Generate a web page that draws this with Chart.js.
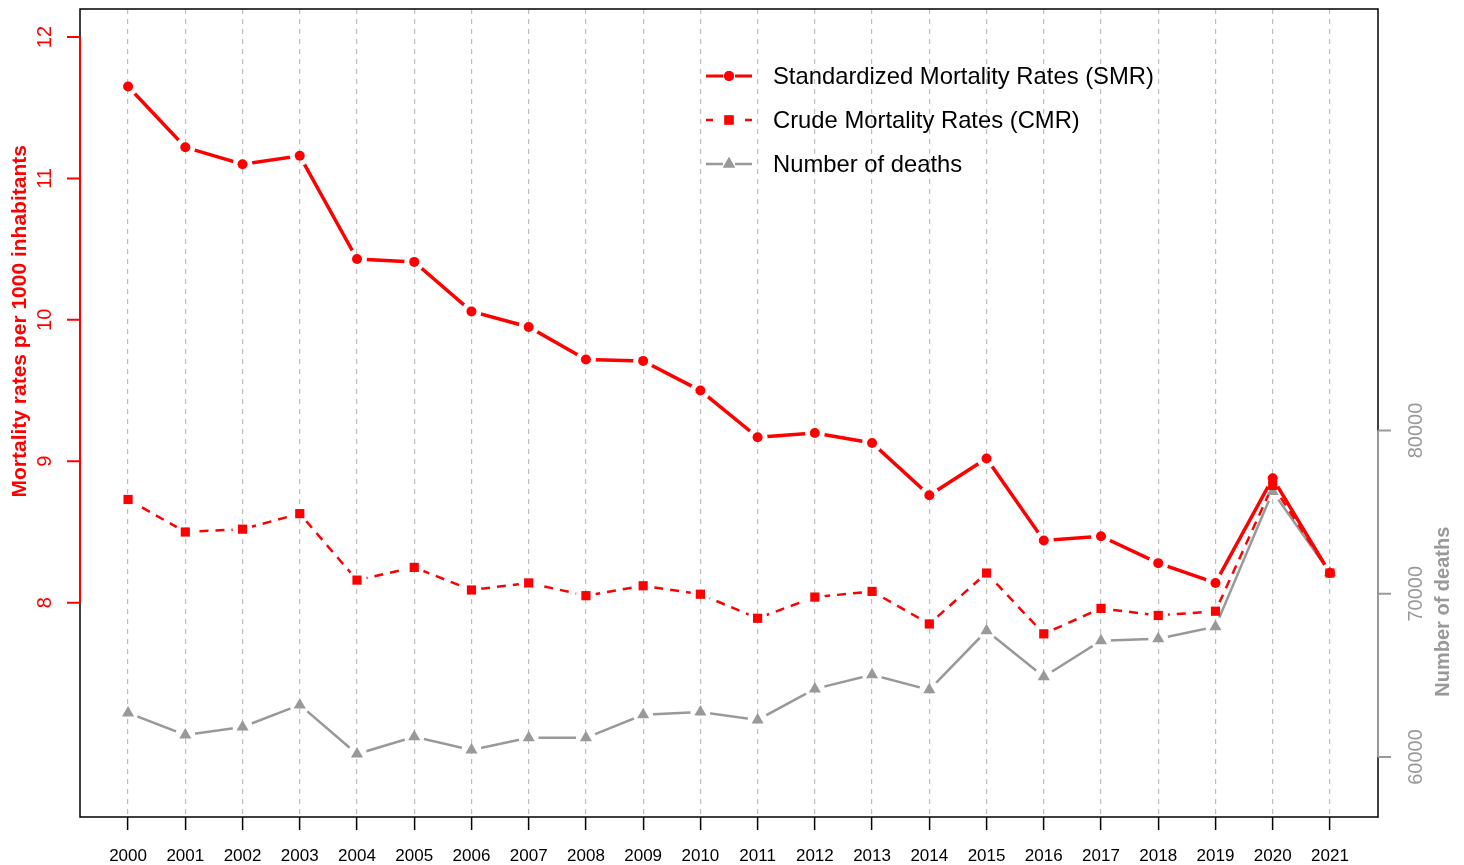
<!DOCTYPE html>
<html>
<head>
<meta charset="utf-8">
<script src="https://cdn.jsdelivr.net/npm/chart.js@4.4.0/dist/chart.umd.min.js"></script>
<style>
  html, body { margin: 0; padding: 0; background: #fff; }
  #wrap { width: 1464px; height: 865px; position: relative; }
</style>
</head>
<body>
<div id="wrap"><canvas id="mortChart"></canvas></div>
<script>
// Years on the x axis
const years = ['2000','2001','2002','2003','2004','2005','2006','2007','2008','2009','2010',
               '2011','2012','2013','2014','2015','2016','2017','2018','2019','2020','2021'];

// Standardized mortality rates per 1000 (left axis)
const smr = [11.65, 11.22, 11.10, 11.16, 10.43, 10.41, 10.06, 9.95, 9.72, 9.71, 9.50,
             9.17, 9.20, 9.13, 8.76, 9.02, 8.44, 8.47, 8.28, 8.14, 8.88, 8.21];

// Crude mortality rates per 1000 (left axis)
const cmr = [8.73, 8.50, 8.52, 8.63, 8.16, 8.25, 8.09, 8.14, 8.05, 8.12, 8.06,
             7.89, 8.04, 8.08, 7.85, 8.21, 7.78, 7.96, 7.91, 7.94, 8.83, 8.21];

// Number of deaths (right axis)
const deaths = [62700, 61350, 61840, 63190, 60180, 61230, 60430, 61170, 61170, 62580, 62760,
                62270, 64170, 65030, 64110, 67730, 64910, 67120, 67240, 67980, 76260, 71290];

const leftTicks = [8, 9, 10, 11, 12];
const rightTicks = [60000, 70000, 80000];

const RED = '#ff0000';
const GREY = '#999999';
const FONT = '"Liberation Sans", Arial, Helvetica, sans-serif';

const toXY = arr => arr.map((v, i) => ({ x: i, y: v }));

// R-style plotting: lines broken around the points, box, partial axes, legend
const rStyle = {
  id: 'rStyle',
  beforeDatasetDraw(chart, args) {
    const ds = chart.data.datasets[args.index];
    if (!ds.gap) return;
    const ctx = chart.ctx;
    const a = chart.chartArea;
    ctx.save();
    ctx.beginPath();
    ctx.rect(a.left - 5, a.top - 5, a.width + 10, a.height + 10);
    args.meta.data.forEach(p => {
      ctx.moveTo(p.x + ds.gap, p.y);
      ctx.arc(p.x, p.y, ds.gap, 0, Math.PI * 2);
    });
    ctx.clip('evenodd');
  },
  afterDatasetDraw(chart, args) {
    const ds = chart.data.datasets[args.index];
    if (ds.gap) chart.ctx.restore();
  },
  afterDraw(chart) {
    const ctx = chart.ctx;
    const a = chart.chartArea;
    const yl = chart.scales.y;
    const yr = chart.scales.y1;

    // box
    ctx.save();
    ctx.strokeStyle = '#000';
    ctx.lineWidth = 1.5;
    ctx.strokeRect(a.left, a.top, a.width, a.height);

    // left axis (red)
    ctx.strokeStyle = RED;
    ctx.lineWidth = 2;
    ctx.beginPath();
    ctx.moveTo(a.left, yl.getPixelForValue(8));
    ctx.lineTo(a.left, yl.getPixelForValue(12));
    leftTicks.forEach(t => {
      const py = yl.getPixelForValue(t);
      ctx.moveTo(a.left, py);
      ctx.lineTo(a.left - 13, py);
    });
    ctx.stroke();
    ctx.fillStyle = RED;
    ctx.font = '20px ' + FONT;
    ctx.textAlign = 'center';
    ctx.textBaseline = 'middle';
    leftTicks.forEach(t => {
      ctx.save();
      ctx.translate(45, yl.getPixelForValue(t));
      ctx.rotate(-Math.PI / 2);
      ctx.fillText(String(t), 0, 0);
      ctx.restore();
    });
    ctx.save();
    ctx.font = 'bold 21px ' + FONT;
    ctx.translate(20, yl.getPixelForValue(9.99));
    ctx.rotate(-Math.PI / 2);
    ctx.fillText('Mortality rates per 1000 inhabitants', 0, 0);
    ctx.restore();

    // right axis (grey)
    ctx.strokeStyle = GREY;
    ctx.lineWidth = 2;
    ctx.beginPath();
    ctx.moveTo(a.right, yr.getPixelForValue(60000));
    ctx.lineTo(a.right, yr.getPixelForValue(80000));
    rightTicks.forEach(t => {
      const py = yr.getPixelForValue(t);
      ctx.moveTo(a.right, py);
      ctx.lineTo(a.right + 13, py);
    });
    ctx.stroke();
    ctx.fillStyle = GREY;
    ctx.font = '20px ' + FONT;
    rightTicks.forEach(t => {
      ctx.save();
      ctx.translate(1416, yr.getPixelForValue(t));
      ctx.rotate(-Math.PI / 2);
      ctx.fillText(String(t), 0, 0);
      ctx.restore();
    });
    ctx.save();
    ctx.font = 'bold 20px ' + FONT;
    ctx.translate(1443, yr.getPixelForValue(68900));
    ctx.rotate(-Math.PI / 2);
    ctx.fillText('Number of deaths', 0, 0);
    ctx.restore();

    // legend
    const lx = 706, lw = 46, tx = 773;
    const rows = [
      { label: 'Standardized Mortality Rates (SMR)', color: RED, dash: [], style: 'circle', r: 5, w: 3 },
      { label: 'Crude Mortality Rates (CMR)', color: RED, dash: [7, 9], style: 'rect', r: 6.5, w: 2.5 },
      { label: 'Number of deaths', color: GREY, dash: [], style: 'triangle', r: 7, w: 2.5 }
    ];
    rows.forEach((row, i) => {
      const ly = 76 + i * 44;
      const cx = lx + lw / 2;
      ctx.strokeStyle = row.color;
      ctx.lineWidth = row.w;
      ctx.setLineDash(row.dash);
      ctx.beginPath();
      if (row.dash.length) {
        ctx.moveTo(lx, ly); ctx.lineTo(lx + 7, ly);
        ctx.moveTo(lx + lw - 7, ly); ctx.lineTo(lx + lw, ly);
      } else {
        ctx.moveTo(lx, ly); ctx.lineTo(cx - 6, ly);
        ctx.moveTo(cx + 6, ly); ctx.lineTo(lx + lw, ly);
      }
      ctx.stroke();
      ctx.setLineDash([]);
      ctx.fillStyle = row.color;
      Chart.helpers.drawPoint(ctx, { pointStyle: row.style, radius: row.r, borderWidth: 0 }, cx, ly);
      ctx.fill();
      ctx.fillStyle = '#000';
      ctx.font = '23.8px ' + FONT;
      ctx.textAlign = 'left';
      ctx.fillText(row.label, tx, ly + 1);
      ctx.textAlign = 'center';
    });
    ctx.restore();
  }
};

const ctx = document.getElementById('mortChart').getContext('2d');
new Chart(ctx, {
  type: 'line',
  data: {
    datasets: [
      // lines (broken around points)
      { data: toXY(smr), yAxisID: 'y', borderColor: RED, borderWidth: 3.5, pointRadius: 0, gap: 10, order: 3 },
      { data: toXY(cmr), yAxisID: 'y', borderColor: RED, borderWidth: 2.5, borderDash: [9, 7], pointRadius: 0, gap: 10, order: 4 },
      { data: toXY(deaths), yAxisID: 'y1', borderColor: GREY, borderWidth: 2.5, pointRadius: 0, gap: 10, order: 5 },
      // points
      { data: toXY(smr), yAxisID: 'y', showLine: false, pointStyle: 'circle', pointRadius: 5,
        pointBackgroundColor: RED, pointBorderWidth: 0, order: 0 },
      { data: toXY(cmr), yAxisID: 'y', showLine: false, pointStyle: 'rect', pointRadius: 6.5,
        pointBackgroundColor: RED, pointBorderWidth: 0, order: 1 },
      { data: toXY(deaths), yAxisID: 'y1', showLine: false, pointStyle: 'triangle', pointRadius: 7,
        pointBackgroundColor: GREY, pointBorderWidth: 0, order: 2 }
    ]
  },
  options: {
    responsive: true,
    maintainAspectRatio: false,
    animation: false,
    layout: { padding: { top: 9, left: 0, right: 0, bottom: 0 } },
    plugins: { legend: { display: false }, tooltip: { enabled: false } },
    scales: {
      x: {
        type: 'linear',
        min: -0.84,
        max: 21.84,
        afterBuildTicks: s => { s.ticks = years.map((_, i) => ({ value: i })); },
        afterFit: s => { s.height = 48; },
        border: { display: false, dash: [5, 5] },
        grid: {
          color: '#bdbdbd',
          lineWidth: 1.2,
          tickColor: '#000',
          tickWidth: 1.5,
          tickLength: 13,
          tickBorderDash: []
        },
        ticks: {
          autoSkip: false,
          maxRotation: 0,
          padding: 16,
          color: '#000',
          font: { family: FONT, size: 17 },
          callback: v => years[v]
        }
      },
      y: {
        position: 'left',
        min: 6.485,
        max: 12.198,
        afterFit: s => { s.width = 80; },
        border: { display: false },
        grid: { display: false },
        ticks: { display: false }
      },
      y1: {
        position: 'right',
        min: 56320,
        max: 105830,
        afterFit: s => { s.width = 86; },
        border: { display: false },
        grid: { display: false },
        ticks: { display: false }
      }
    }
  },
  plugins: [rStyle]
});
</script>
</body>
</html>
